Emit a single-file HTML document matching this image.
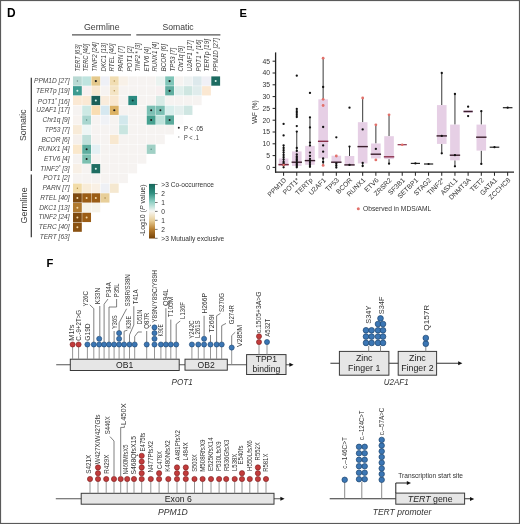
<!DOCTYPE html>
<html><head><meta charset="utf-8"><title>Figure</title>
<style>
html,body{margin:0;padding:0;background:#fff;}
body{width:520px;height:524px;overflow:hidden;}
svg{display:block;filter:blur(0.3px);font-family:"Liberation Sans", sans-serif;}
</style></head>
<body>
<svg width="520" height="524" viewBox="0 0 520 524">
<rect x="0.5" y="0.5" width="519" height="523" fill="#fff" stroke="#5a5a5a" stroke-width="1.2"/>
<text x="7.00" y="16.62" font-size="12.0" fill="#000" font-weight="bold" textLength="8.60" lengthAdjust="spacingAndGlyphs">D</text>
<text x="239.60" y="16.63" font-size="11.2" fill="#000" font-weight="bold">E</text>
<text x="46.40" y="267.28" font-size="11.2" fill="#000" font-weight="bold">F</text>
<text x="101.80" y="30.01" font-size="8.8" fill="#3a3a3a" text-anchor="middle">Germline</text>
<text x="178.10" y="30.23" font-size="8.6" fill="#3a3a3a" text-anchor="middle">Somatic</text>
<line x1="72.00" y1="34.90" x2="131.00" y2="34.90" stroke="#555" stroke-width="1.3"/>
<line x1="136.30" y1="34.80" x2="220.40" y2="34.80" stroke="#555" stroke-width="1.3"/>
<text transform="translate(79.68,71.60) rotate(-90)" font-size="6.8" fill="#3a3a3a" font-style="italic" textLength="27.00" lengthAdjust="spacingAndGlyphs">TERT [63]</text>
<text transform="translate(88.32,71.60) rotate(-90)" font-size="6.8" fill="#3a3a3a" font-style="italic" textLength="27.80" lengthAdjust="spacingAndGlyphs">TERC [40]</text>
<text transform="translate(96.96,71.60) rotate(-90)" font-size="6.8" fill="#3a3a3a" font-style="italic" textLength="29.30" lengthAdjust="spacingAndGlyphs">TINF2 [24]</text>
<text transform="translate(105.60,71.60) rotate(-90)" font-size="6.8" fill="#3a3a3a" font-style="italic" textLength="28.60" lengthAdjust="spacingAndGlyphs">DKC1 [13]</text>
<text transform="translate(114.24,71.60) rotate(-90)" font-size="6.8" fill="#3a3a3a" font-style="italic" textLength="28.10" lengthAdjust="spacingAndGlyphs">RTEL [40]</text>
<text transform="translate(122.88,71.60) rotate(-90)" font-size="6.8" fill="#3a3a3a" font-style="italic" textLength="25.70" lengthAdjust="spacingAndGlyphs">PARN [7]</text>
<text transform="translate(131.52,71.60) rotate(-90)" font-size="6.8" fill="#3a3a3a" font-style="italic" textLength="25.30" lengthAdjust="spacingAndGlyphs">POT1 [2]</text>
<text transform="translate(140.16,71.60) rotate(-90)" font-size="6.8" fill="#3a3a3a" font-style="italic" textLength="28.60" lengthAdjust="spacingAndGlyphs">TINF2 * [3]</text>
<text transform="translate(148.80,71.60) rotate(-90)" font-size="6.8" fill="#3a3a3a" font-style="italic" textLength="24.60" lengthAdjust="spacingAndGlyphs">ETV6 [4]</text>
<text transform="translate(157.44,71.60) rotate(-90)" font-size="6.8" fill="#3a3a3a" font-style="italic" textLength="29.60" lengthAdjust="spacingAndGlyphs">RUNX1 [4]</text>
<text transform="translate(166.08,71.60) rotate(-90)" font-size="6.8" fill="#3a3a3a" font-style="italic" textLength="27.60" lengthAdjust="spacingAndGlyphs">BCOR [6]</text>
<text transform="translate(174.72,71.60) rotate(-90)" font-size="6.8" fill="#3a3a3a" font-style="italic" textLength="23.90" lengthAdjust="spacingAndGlyphs">TP53 [7]</text>
<text transform="translate(183.36,71.60) rotate(-90)" font-size="6.8" fill="#3a3a3a" font-style="italic" textLength="25.60" lengthAdjust="spacingAndGlyphs">Chr1q [9]</text>
<text transform="translate(192.00,71.60) rotate(-90)" font-size="6.8" fill="#3a3a3a" font-style="italic" textLength="31.40" lengthAdjust="spacingAndGlyphs">U2AF1 [17]</text>
<text transform="translate(200.64,71.60) rotate(-90)" font-size="6.8" fill="#3a3a3a" font-style="italic" textLength="31.90" lengthAdjust="spacingAndGlyphs">POT1 * [16]</text>
<text transform="translate(209.28,71.60) rotate(-90)" font-size="6.8" fill="#3a3a3a" font-style="italic" textLength="32.60" lengthAdjust="spacingAndGlyphs">TERTp [19]</text>
<text transform="translate(217.92,71.60) rotate(-90)" font-size="6.8" fill="#3a3a3a" font-style="italic" textLength="33.60" lengthAdjust="spacingAndGlyphs">PPM1D [27]</text>
<text x="69.6" y="83.06" font-size="6.6" fill="#484848" font-style="italic" text-anchor="end">PPM1D [27]</text>
<text x="69.6" y="92.80" font-size="6.6" fill="#484848" font-style="italic" text-anchor="end">TERTp [19]</text>
<text x="69.6" y="103.94" font-size="6.6" fill="#484848" font-style="italic" text-anchor="end">POT1<tspan font-size="4.5" dy="-2.2">*</tspan><tspan dy="2.2"> </tspan>[16]</text>
<text x="69.6" y="112.28" font-size="6.6" fill="#484848" font-style="italic" text-anchor="end">U2AF1 [17]</text>
<text x="69.6" y="122.02" font-size="6.6" fill="#484848" font-style="italic" text-anchor="end">Chr1q [9]</text>
<text x="69.6" y="131.76" font-size="6.6" fill="#484848" font-style="italic" text-anchor="end">TP53 [7]</text>
<text x="69.6" y="141.50" font-size="6.6" fill="#484848" font-style="italic" text-anchor="end">BCOR [6]</text>
<text x="69.6" y="151.24" font-size="6.6" fill="#484848" font-style="italic" text-anchor="end">RUNX1 [4]</text>
<text x="69.6" y="160.98" font-size="6.6" fill="#484848" font-style="italic" text-anchor="end">ETV6 [4]</text>
<text x="69.6" y="170.72" font-size="6.6" fill="#484848" font-style="italic" text-anchor="end">TINF2<tspan font-size="4.5" dy="-2.2">*</tspan><tspan dy="2.2"> </tspan>[3]</text>
<text x="69.6" y="180.46" font-size="6.6" fill="#484848" font-style="italic" text-anchor="end">POT1 [2]</text>
<text x="69.6" y="190.20" font-size="6.6" fill="#484848" font-style="italic" text-anchor="end">PARN [7]</text>
<text x="69.6" y="199.94" font-size="6.6" fill="#484848" font-style="italic" text-anchor="end">RTEL [40]</text>
<text x="69.6" y="209.68" font-size="6.6" fill="#484848" font-style="italic" text-anchor="end">DKC1 [13]</text>
<text x="69.6" y="219.42" font-size="6.6" fill="#484848" font-style="italic" text-anchor="end">TINF2 [24]</text>
<text x="69.6" y="229.16" font-size="6.6" fill="#484848" font-style="italic" text-anchor="end">TERC [40]</text>
<text x="69.6" y="238.90" font-size="6.6" fill="#484848" font-style="italic" text-anchor="end">TERT [63]</text>
<text transform="translate(26.43,141.00) rotate(-90)" font-size="8.6" fill="#3a3a3a" textLength="31.50" lengthAdjust="spacingAndGlyphs">Somatic</text>
<text transform="translate(26.53,223.40) rotate(-90)" font-size="8.6" fill="#3a3a3a" textLength="36.00" lengthAdjust="spacingAndGlyphs">Germline</text>
<line x1="31.30" y1="77.70" x2="31.30" y2="171.00" stroke="#333" stroke-width="1.2"/>
<line x1="31.30" y1="174.60" x2="31.30" y2="237.30" stroke="#333" stroke-width="1.2"/>
<rect x="73.00" y="76.40" width="8.80" height="9.30" fill="#b9dad4"/>
<rect x="82.22" y="76.40" width="8.80" height="9.30" fill="#bfe4df"/>
<rect x="91.44" y="76.40" width="8.80" height="9.30" fill="#e4c98c"/>
<rect x="100.66" y="76.40" width="8.80" height="9.30" fill="#eef0f6"/>
<rect x="109.88" y="76.40" width="8.80" height="9.30" fill="#f1ddb2"/>
<rect x="119.10" y="76.40" width="8.80" height="9.30" fill="#f8f1e8"/>
<rect x="128.32" y="76.40" width="8.80" height="9.30" fill="#f6f3f1"/>
<rect x="137.54" y="76.40" width="8.80" height="9.30" fill="#f6f3f1"/>
<rect x="146.76" y="76.40" width="8.80" height="9.30" fill="#f6f3f1"/>
<rect x="155.98" y="76.40" width="8.80" height="9.30" fill="#eaf3f0"/>
<rect x="165.20" y="76.40" width="8.80" height="9.30" fill="#7fc5b8"/>
<rect x="174.42" y="76.40" width="8.80" height="9.30" fill="#f6f3f1"/>
<rect x="183.64" y="76.40" width="8.80" height="9.30" fill="#eef2f2"/>
<rect x="192.86" y="76.40" width="8.80" height="9.30" fill="#dde9ec"/>
<rect x="202.08" y="76.40" width="8.80" height="9.30" fill="#f0f0f6"/>
<rect x="211.30" y="76.40" width="8.80" height="9.30" fill="#1d6b61"/>
<rect x="73.00" y="86.14" width="8.80" height="9.30" fill="#3d9b90"/>
<rect x="82.22" y="86.14" width="8.80" height="9.30" fill="#f8f0f0"/>
<rect x="91.44" y="86.14" width="8.80" height="9.30" fill="#f9e9d2"/>
<rect x="100.66" y="86.14" width="8.80" height="9.30" fill="#f6f3f1"/>
<rect x="109.88" y="86.14" width="8.80" height="9.30" fill="#f4e4c4"/>
<rect x="119.10" y="86.14" width="8.80" height="9.30" fill="#f6f3f1"/>
<rect x="128.32" y="86.14" width="8.80" height="9.30" fill="#f6f3f1"/>
<rect x="137.54" y="86.14" width="8.80" height="9.30" fill="#f6f3f1"/>
<rect x="146.76" y="86.14" width="8.80" height="9.30" fill="#f6f3f1"/>
<rect x="155.98" y="86.14" width="8.80" height="9.30" fill="#f7f0f0"/>
<rect x="165.20" y="86.14" width="8.80" height="9.30" fill="#5faea0"/>
<rect x="174.42" y="86.14" width="8.80" height="9.30" fill="#e0efec"/>
<rect x="183.64" y="86.14" width="8.80" height="9.30" fill="#cfe6e1"/>
<rect x="192.86" y="86.14" width="8.80" height="9.30" fill="#e0ecec"/>
<rect x="202.08" y="86.14" width="8.80" height="9.30" fill="#fbe8d2"/>
<rect x="73.00" y="95.88" width="8.80" height="9.30" fill="#fbe9d4"/>
<rect x="82.22" y="95.88" width="8.80" height="9.30" fill="#fbe9d4"/>
<rect x="91.44" y="95.88" width="8.80" height="9.30" fill="#1b5f58"/>
<rect x="100.66" y="95.88" width="8.80" height="9.30" fill="#f9ecdc"/>
<rect x="109.88" y="95.88" width="8.80" height="9.30" fill="#f9e8d0"/>
<rect x="119.10" y="95.88" width="8.80" height="9.30" fill="#f6f3f1"/>
<rect x="128.32" y="95.88" width="8.80" height="9.30" fill="#2b8a80"/>
<rect x="137.54" y="95.88" width="8.80" height="9.30" fill="#f6f3f1"/>
<rect x="146.76" y="95.88" width="8.80" height="9.30" fill="#f6f3f1"/>
<rect x="155.98" y="95.88" width="8.80" height="9.30" fill="#d7ebe6"/>
<rect x="165.20" y="95.88" width="8.80" height="9.30" fill="#f6f3f1"/>
<rect x="174.42" y="95.88" width="8.80" height="9.30" fill="#f6f3f1"/>
<rect x="183.64" y="95.88" width="8.80" height="9.30" fill="#f6f3f1"/>
<rect x="192.86" y="95.88" width="8.80" height="9.30" fill="#f6f3f1"/>
<rect x="73.00" y="105.62" width="8.80" height="9.30" fill="#f6f3f1"/>
<rect x="82.22" y="105.62" width="8.80" height="9.30" fill="#cde9e4"/>
<rect x="91.44" y="105.62" width="8.80" height="9.30" fill="#f9ddb2"/>
<rect x="100.66" y="105.62" width="8.80" height="9.30" fill="#d6e8f0"/>
<rect x="109.88" y="105.62" width="8.80" height="9.30" fill="#dcb264"/>
<rect x="119.10" y="105.62" width="8.80" height="9.30" fill="#f6f3f1"/>
<rect x="128.32" y="105.62" width="8.80" height="9.30" fill="#f6f3f1"/>
<rect x="137.54" y="105.62" width="8.80" height="9.30" fill="#f6f3f1"/>
<rect x="146.76" y="105.62" width="8.80" height="9.30" fill="#7cc0b4"/>
<rect x="155.98" y="105.62" width="8.80" height="9.30" fill="#7cc0b4"/>
<rect x="165.20" y="105.62" width="8.80" height="9.30" fill="#d8eeec"/>
<rect x="174.42" y="105.62" width="8.80" height="9.30" fill="#e4efee"/>
<rect x="183.64" y="105.62" width="8.80" height="9.30" fill="#cfe6e2"/>
<rect x="73.00" y="115.36" width="8.80" height="9.30" fill="#f8f3ef"/>
<rect x="82.22" y="115.36" width="8.80" height="9.30" fill="#a9d6cf"/>
<rect x="91.44" y="115.36" width="8.80" height="9.30" fill="#f6f3f1"/>
<rect x="100.66" y="115.36" width="8.80" height="9.30" fill="#f0f2f6"/>
<rect x="109.88" y="115.36" width="8.80" height="9.30" fill="#f6f3f1"/>
<rect x="119.10" y="115.36" width="8.80" height="9.30" fill="#d2e8ec"/>
<rect x="128.32" y="115.36" width="8.80" height="9.30" fill="#f6f3f1"/>
<rect x="137.54" y="115.36" width="8.80" height="9.30" fill="#f6f3f1"/>
<rect x="146.76" y="115.36" width="8.80" height="9.30" fill="#46a190"/>
<rect x="155.98" y="115.36" width="8.80" height="9.30" fill="#bfe3dc"/>
<rect x="165.20" y="115.36" width="8.80" height="9.30" fill="#5aaa9c"/>
<rect x="174.42" y="115.36" width="8.80" height="9.30" fill="#fbfbfb"/>
<rect x="73.00" y="125.10" width="8.80" height="9.30" fill="#f8ebd8"/>
<rect x="82.22" y="125.10" width="8.80" height="9.30" fill="#eef6f5"/>
<rect x="91.44" y="125.10" width="8.80" height="9.30" fill="#f6f3f1"/>
<rect x="100.66" y="125.10" width="8.80" height="9.30" fill="#f6f3f1"/>
<rect x="109.88" y="125.10" width="8.80" height="9.30" fill="#f6f3f1"/>
<rect x="119.10" y="125.10" width="8.80" height="9.30" fill="#c9e5e0"/>
<rect x="128.32" y="125.10" width="8.80" height="9.30" fill="#f6f3f1"/>
<rect x="137.54" y="125.10" width="8.80" height="9.30" fill="#f6f3f1"/>
<rect x="146.76" y="125.10" width="8.80" height="9.30" fill="#f6f3f1"/>
<rect x="155.98" y="125.10" width="8.80" height="9.30" fill="#f6f3f1"/>
<rect x="165.20" y="125.10" width="8.80" height="9.30" fill="#f6f3f1"/>
<rect x="73.00" y="134.84" width="8.80" height="9.30" fill="#f5f0ec"/>
<rect x="82.22" y="134.84" width="8.80" height="9.30" fill="#c0e0da"/>
<rect x="91.44" y="134.84" width="8.80" height="9.30" fill="#f6f3f1"/>
<rect x="100.66" y="134.84" width="8.80" height="9.30" fill="#f6f3f1"/>
<rect x="109.88" y="134.84" width="8.80" height="9.30" fill="#f8e8d0"/>
<rect x="119.10" y="134.84" width="8.80" height="9.30" fill="#f6f3f1"/>
<rect x="128.32" y="134.84" width="8.80" height="9.30" fill="#f6f3f1"/>
<rect x="137.54" y="134.84" width="8.80" height="9.30" fill="#f6f3f1"/>
<rect x="146.76" y="134.84" width="8.80" height="9.30" fill="#f6f3f1"/>
<rect x="155.98" y="134.84" width="8.80" height="9.30" fill="#f6f3f1"/>
<rect x="73.00" y="144.58" width="8.80" height="9.30" fill="#fae8cc"/>
<rect x="82.22" y="144.58" width="8.80" height="9.30" fill="#5fae9f"/>
<rect x="91.44" y="144.58" width="8.80" height="9.30" fill="#e4f0f3"/>
<rect x="100.66" y="144.58" width="8.80" height="9.30" fill="#f6f3f1"/>
<rect x="109.88" y="144.58" width="8.80" height="9.30" fill="#f6f3f1"/>
<rect x="119.10" y="144.58" width="8.80" height="9.30" fill="#f6f3f1"/>
<rect x="128.32" y="144.58" width="8.80" height="9.30" fill="#f6f3f1"/>
<rect x="137.54" y="144.58" width="8.80" height="9.30" fill="#f6f3f1"/>
<rect x="146.76" y="144.58" width="8.80" height="9.30" fill="#a0d0c5"/>
<rect x="73.00" y="154.32" width="8.80" height="9.30" fill="#f5f2f0"/>
<rect x="82.22" y="154.32" width="8.80" height="9.30" fill="#7cc0b0"/>
<rect x="91.44" y="154.32" width="8.80" height="9.30" fill="#f6f3f1"/>
<rect x="100.66" y="154.32" width="8.80" height="9.30" fill="#f6f3f1"/>
<rect x="109.88" y="154.32" width="8.80" height="9.30" fill="#f6f3f1"/>
<rect x="119.10" y="154.32" width="8.80" height="9.30" fill="#f6f3f1"/>
<rect x="128.32" y="154.32" width="8.80" height="9.30" fill="#f6f3f1"/>
<rect x="137.54" y="154.32" width="8.80" height="9.30" fill="#f6f3f1"/>
<rect x="73.00" y="164.06" width="8.80" height="9.30" fill="#f8f0e6"/>
<rect x="82.22" y="164.06" width="8.80" height="9.30" fill="#f6f3f1"/>
<rect x="91.44" y="164.06" width="8.80" height="9.30" fill="#1f6e62"/>
<rect x="100.66" y="164.06" width="8.80" height="9.30" fill="#f6f3f1"/>
<rect x="109.88" y="164.06" width="8.80" height="9.30" fill="#f6f3f1"/>
<rect x="119.10" y="164.06" width="8.80" height="9.30" fill="#f6f3f1"/>
<rect x="128.32" y="164.06" width="8.80" height="9.30" fill="#f6f3f1"/>
<rect x="73.00" y="173.80" width="8.80" height="9.30" fill="#f6f3f1"/>
<rect x="82.22" y="173.80" width="8.80" height="9.30" fill="#f6f3f1"/>
<rect x="91.44" y="173.80" width="8.80" height="9.30" fill="#f6f3f1"/>
<rect x="100.66" y="173.80" width="8.80" height="9.30" fill="#f6f3f1"/>
<rect x="109.88" y="173.80" width="8.80" height="9.30" fill="#f6f3f1"/>
<rect x="119.10" y="173.80" width="8.80" height="9.30" fill="#f6f3f1"/>
<rect x="73.00" y="183.54" width="8.80" height="9.30" fill="#f2dca8"/>
<rect x="82.22" y="183.54" width="8.80" height="9.30" fill="#f8ecd8"/>
<rect x="91.44" y="183.54" width="8.80" height="9.30" fill="#f9f0e4"/>
<rect x="100.66" y="183.54" width="8.80" height="9.30" fill="#eef0f5"/>
<rect x="109.88" y="183.54" width="8.80" height="9.30" fill="#f5e8d0"/>
<rect x="73.00" y="193.28" width="8.80" height="9.30" fill="#7e4a10"/>
<rect x="82.22" y="193.28" width="8.80" height="9.30" fill="#9b5d16"/>
<rect x="91.44" y="193.28" width="8.80" height="9.30" fill="#9b5d16"/>
<rect x="100.66" y="193.28" width="8.80" height="9.30" fill="#e8cf9a"/>
<rect x="73.00" y="203.02" width="8.80" height="9.30" fill="#b07a30"/>
<rect x="82.22" y="203.02" width="8.80" height="9.30" fill="#f6f3ea"/>
<rect x="91.44" y="203.02" width="8.80" height="9.30" fill="#f6f3ea"/>
<rect x="73.00" y="212.76" width="8.80" height="9.30" fill="#7e4a10"/>
<rect x="82.22" y="212.76" width="8.80" height="9.30" fill="#9b5d16"/>
<rect x="73.00" y="222.50" width="8.80" height="9.30" fill="#8a5212"/>
<circle cx="77.40" cy="81.05" r="0.70" fill="#6a8a86"/>
<circle cx="95.84" cy="81.05" r="1.10" fill="#1a1a1a"/>
<circle cx="114.28" cy="81.05" r="0.70" fill="#b09050"/>
<circle cx="169.60" cy="81.05" r="1.10" fill="#1a1a1a"/>
<circle cx="215.70" cy="81.05" r="1.00" fill="#d8f0ea"/>
<circle cx="77.40" cy="90.79" r="1.00" fill="#d8f4ef"/>
<circle cx="114.28" cy="90.79" r="0.70" fill="#b09050"/>
<circle cx="169.60" cy="90.79" r="1.10" fill="#1a1a1a"/>
<circle cx="95.84" cy="100.53" r="1.00" fill="#d8f4ef"/>
<circle cx="132.72" cy="100.53" r="1.00" fill="#0d3a35"/>
<circle cx="114.28" cy="110.27" r="1.10" fill="#1a1a1a"/>
<circle cx="151.16" cy="110.27" r="1.00" fill="#1a1a1a"/>
<circle cx="160.38" cy="110.27" r="1.00" fill="#1a1a1a"/>
<circle cx="86.62" cy="120.01" r="0.70" fill="#5a8a84"/>
<circle cx="151.16" cy="120.01" r="1.00" fill="#1a1a1a"/>
<circle cx="169.60" cy="120.01" r="1.00" fill="#1a1a1a"/>
<circle cx="86.62" cy="149.23" r="1.00" fill="#1a1a1a"/>
<circle cx="151.16" cy="149.23" r="0.70" fill="#5a8a84"/>
<circle cx="86.62" cy="158.97" r="1.00" fill="#1a1a1a"/>
<circle cx="95.84" cy="168.71" r="1.00" fill="#d8f4ef"/>
<circle cx="77.40" cy="188.19" r="0.70" fill="#b09050"/>
<circle cx="77.40" cy="197.93" r="1.00" fill="#f3d9a8"/>
<circle cx="86.62" cy="197.93" r="1.00" fill="#f3d9a8"/>
<circle cx="95.84" cy="197.93" r="1.00" fill="#f3d9a8"/>
<circle cx="105.06" cy="197.93" r="0.70" fill="#a08040"/>
<circle cx="77.40" cy="207.67" r="1.00" fill="#f3d9a8"/>
<circle cx="77.40" cy="217.41" r="1.00" fill="#f3d9a8"/>
<circle cx="86.62" cy="217.41" r="1.00" fill="#f3d9a8"/>
<circle cx="77.40" cy="227.15" r="1.00" fill="#f3d9a8"/>
<circle cx="178.80" cy="127.80" r="1.00" fill="#222"/>
<text x="184.00" y="131.11" font-size="6.6" fill="#333" textLength="19.20" lengthAdjust="spacingAndGlyphs">P &lt; .05</text>
<circle cx="178.80" cy="137.00" r="0.70" fill="#999"/>
<text x="184.00" y="140.31" font-size="6.6" fill="#333" textLength="14.80" lengthAdjust="spacingAndGlyphs">P &lt; .1</text>
<defs><linearGradient id="cb" x1="0" y1="0" x2="0" y2="1"><stop offset="0" stop-color="#17675b"/><stop offset="0.17" stop-color="#2f8f80"/><stop offset="0.33" stop-color="#8fd0c4"/><stop offset="0.5" stop-color="#f7f7f4"/><stop offset="0.67" stop-color="#e8cf9a"/><stop offset="0.83" stop-color="#b87f30"/><stop offset="1" stop-color="#754208"/></linearGradient></defs>
<rect x="149.00" y="183.90" width="6.00" height="54.60" fill="url(#cb)"/>
<line x1="155.00" y1="184.50" x2="157.60" y2="184.50" stroke="#555" stroke-width="0.8"/>
<text x="161.30" y="186.91" font-size="6.6" fill="#333">&gt;3 Co-occurrence</text>
<line x1="155.00" y1="193.60" x2="157.60" y2="193.60" stroke="#555" stroke-width="0.8"/>
<text x="161.30" y="196.01" font-size="6.6" fill="#333">2</text>
<line x1="155.00" y1="202.50" x2="157.60" y2="202.50" stroke="#555" stroke-width="0.8"/>
<text x="161.30" y="204.91" font-size="6.6" fill="#333">1</text>
<line x1="155.00" y1="211.40" x2="157.60" y2="211.40" stroke="#555" stroke-width="0.8"/>
<text x="161.30" y="213.81" font-size="6.6" fill="#333">0</text>
<line x1="155.00" y1="220.30" x2="157.60" y2="220.30" stroke="#555" stroke-width="0.8"/>
<text x="161.30" y="222.71" font-size="6.6" fill="#333">1</text>
<line x1="155.00" y1="229.40" x2="157.60" y2="229.40" stroke="#555" stroke-width="0.8"/>
<text x="161.30" y="231.81" font-size="6.6" fill="#333">2</text>
<line x1="155.00" y1="238.30" x2="157.60" y2="238.30" stroke="#555" stroke-width="0.8"/>
<text x="161.30" y="240.71" font-size="6.6" fill="#333">&gt;3 Mutually exclusive</text>
<text transform="translate(145.3,236.0) rotate(-90)" font-size="6.9" fill="#333" textLength="51.5" lengthAdjust="spacingAndGlyphs">-Log10 (<tspan font-style="italic">P</tspan> value)</text>
<line x1="275.60" y1="52.40" x2="275.60" y2="172.70" stroke="#222" stroke-width="1.3"/>
<line x1="275.00" y1="172.10" x2="514.00" y2="172.10" stroke="#222" stroke-width="1.3"/>
<line x1="272.60" y1="167.40" x2="275.60" y2="167.40" stroke="#222" stroke-width="1.0"/>
<text x="270.00" y="169.88" font-size="6.8" fill="#333" text-anchor="end">0</text>
<line x1="272.60" y1="155.60" x2="275.60" y2="155.60" stroke="#222" stroke-width="1.0"/>
<text x="270.00" y="158.08" font-size="6.8" fill="#333" text-anchor="end">5</text>
<line x1="272.60" y1="143.80" x2="275.60" y2="143.80" stroke="#222" stroke-width="1.0"/>
<text x="270.00" y="146.28" font-size="6.8" fill="#333" text-anchor="end">10</text>
<line x1="272.60" y1="132.00" x2="275.60" y2="132.00" stroke="#222" stroke-width="1.0"/>
<text x="270.00" y="134.48" font-size="6.8" fill="#333" text-anchor="end">15</text>
<line x1="272.60" y1="120.20" x2="275.60" y2="120.20" stroke="#222" stroke-width="1.0"/>
<text x="270.00" y="122.68" font-size="6.8" fill="#333" text-anchor="end">20</text>
<line x1="272.60" y1="108.40" x2="275.60" y2="108.40" stroke="#222" stroke-width="1.0"/>
<text x="270.00" y="110.88" font-size="6.8" fill="#333" text-anchor="end">25</text>
<line x1="272.60" y1="96.60" x2="275.60" y2="96.60" stroke="#222" stroke-width="1.0"/>
<text x="270.00" y="99.08" font-size="6.8" fill="#333" text-anchor="end">30</text>
<line x1="272.60" y1="84.80" x2="275.60" y2="84.80" stroke="#222" stroke-width="1.0"/>
<text x="270.00" y="87.28" font-size="6.8" fill="#333" text-anchor="end">35</text>
<line x1="272.60" y1="73.00" x2="275.60" y2="73.00" stroke="#222" stroke-width="1.0"/>
<text x="270.00" y="75.48" font-size="6.8" fill="#333" text-anchor="end">40</text>
<line x1="272.60" y1="61.20" x2="275.60" y2="61.20" stroke="#222" stroke-width="1.0"/>
<text x="270.00" y="63.68" font-size="6.8" fill="#333" text-anchor="end">45</text>
<text transform="translate(256.6,124.0) rotate(-90)" font-size="6.6" fill="#333" textLength="23.5" lengthAdjust="spacingAndGlyphs">VAF (%)</text>
<line x1="283.60" y1="172.10" x2="283.60" y2="175.80" stroke="#222" stroke-width="1.0"/>
<text transform="translate(286.80,180.60) rotate(-45)" font-size="6.8" fill="#333" text-anchor="end">PPM1D</text>
<line x1="296.78" y1="172.10" x2="296.78" y2="175.80" stroke="#222" stroke-width="1.0"/>
<text transform="translate(299.98,180.60) rotate(-45)" font-size="6.8" fill="#333" text-anchor="end">POT1*</text>
<line x1="309.96" y1="172.10" x2="309.96" y2="175.80" stroke="#222" stroke-width="1.0"/>
<text transform="translate(313.16,180.60) rotate(-45)" font-size="6.8" fill="#333" text-anchor="end">TERTp</text>
<line x1="323.14" y1="172.10" x2="323.14" y2="175.80" stroke="#222" stroke-width="1.0"/>
<text transform="translate(326.34,180.60) rotate(-45)" font-size="6.8" fill="#333" text-anchor="end">U2AF1</text>
<line x1="336.32" y1="172.10" x2="336.32" y2="175.80" stroke="#222" stroke-width="1.0"/>
<text transform="translate(339.52,180.60) rotate(-45)" font-size="6.8" fill="#333" text-anchor="end">TP53</text>
<line x1="349.50" y1="172.10" x2="349.50" y2="175.80" stroke="#222" stroke-width="1.0"/>
<text transform="translate(352.70,180.60) rotate(-45)" font-size="6.8" fill="#333" text-anchor="end">BCOR</text>
<line x1="362.68" y1="172.10" x2="362.68" y2="175.80" stroke="#222" stroke-width="1.0"/>
<text transform="translate(365.88,180.60) rotate(-45)" font-size="6.8" fill="#333" text-anchor="end">RUNX1</text>
<line x1="375.86" y1="172.10" x2="375.86" y2="175.80" stroke="#222" stroke-width="1.0"/>
<text transform="translate(379.06,180.60) rotate(-45)" font-size="6.8" fill="#333" text-anchor="end">ETV6</text>
<line x1="389.04" y1="172.10" x2="389.04" y2="175.80" stroke="#222" stroke-width="1.0"/>
<text transform="translate(392.24,180.60) rotate(-45)" font-size="6.8" fill="#333" text-anchor="end">ZRSR2</text>
<line x1="402.22" y1="172.10" x2="402.22" y2="175.80" stroke="#222" stroke-width="1.0"/>
<text transform="translate(405.42,180.60) rotate(-45)" font-size="6.8" fill="#333" text-anchor="end">SF3B1</text>
<line x1="415.40" y1="172.10" x2="415.40" y2="175.80" stroke="#222" stroke-width="1.0"/>
<text transform="translate(418.60,180.60) rotate(-45)" font-size="6.8" fill="#333" text-anchor="end">SETBP1</text>
<line x1="428.58" y1="172.10" x2="428.58" y2="175.80" stroke="#222" stroke-width="1.0"/>
<text transform="translate(431.78,180.60) rotate(-45)" font-size="6.8" fill="#333" text-anchor="end">STAG2</text>
<line x1="441.76" y1="172.10" x2="441.76" y2="175.80" stroke="#222" stroke-width="1.0"/>
<text transform="translate(444.96,180.60) rotate(-45)" font-size="6.8" fill="#333" text-anchor="end">TINF2*</text>
<line x1="454.94" y1="172.10" x2="454.94" y2="175.80" stroke="#222" stroke-width="1.0"/>
<text transform="translate(458.14,180.60) rotate(-45)" font-size="6.8" fill="#333" text-anchor="end">ASXL1</text>
<line x1="468.12" y1="172.10" x2="468.12" y2="175.80" stroke="#222" stroke-width="1.0"/>
<text transform="translate(471.32,180.60) rotate(-45)" font-size="6.8" fill="#333" text-anchor="end">DNMT3A</text>
<line x1="481.30" y1="172.10" x2="481.30" y2="175.80" stroke="#222" stroke-width="1.0"/>
<text transform="translate(484.50,180.60) rotate(-45)" font-size="6.8" fill="#333" text-anchor="end">TET2</text>
<line x1="494.48" y1="172.10" x2="494.48" y2="175.80" stroke="#222" stroke-width="1.0"/>
<text transform="translate(497.68,180.60) rotate(-45)" font-size="6.8" fill="#333" text-anchor="end">GATA1</text>
<line x1="507.66" y1="172.10" x2="507.66" y2="175.80" stroke="#222" stroke-width="1.0"/>
<text transform="translate(510.86,180.60) rotate(-45)" font-size="6.8" fill="#333" text-anchor="end">ZCCHC8</text>
<rect x="278.80" y="158.50" width="9.60" height="7.50" fill="#e6cfe5"/>
<line x1="278.40" y1="164.60" x2="288.80" y2="164.60" stroke="#7a2b3c" stroke-width="1.4"/>
<line x1="283.60" y1="145.40" x2="283.60" y2="167.50" stroke="#222" stroke-width="0.9"/>
<circle cx="283.60" cy="123.90" r="1.15" fill="#111"/>
<circle cx="283.60" cy="135.40" r="1.15" fill="#111"/>
<circle cx="283.60" cy="145.40" r="1.15" fill="#111"/>
<circle cx="283.60" cy="148.00" r="1.15" fill="#111"/>
<circle cx="283.60" cy="150.20" r="1.15" fill="#111"/>
<circle cx="283.60" cy="152.50" r="1.15" fill="#111"/>
<circle cx="283.60" cy="155.00" r="1.15" fill="#111"/>
<circle cx="283.60" cy="157.20" r="1.15" fill="#111"/>
<circle cx="283.60" cy="159.50" r="1.15" fill="#111"/>
<circle cx="283.60" cy="162.00" r="1.15" fill="#111"/>
<circle cx="283.60" cy="163.50" r="1.15" fill="#111"/>
<circle cx="283.60" cy="165.20" r="1.15" fill="#111"/>
<circle cx="283.60" cy="167.30" r="1.15" fill="#111"/>
<circle cx="283.60" cy="165.00" r="1.30" fill="#e2716b"/>
<line x1="296.78" y1="131.60" x2="296.78" y2="151.40" stroke="#222" stroke-width="0.9"/>
<line x1="296.78" y1="166.00" x2="296.78" y2="167.30" stroke="#222" stroke-width="0.9"/>
<rect x="291.98" y="151.40" width="9.60" height="14.60" fill="#e6cfe5"/>
<line x1="291.58" y1="162.20" x2="301.98" y2="162.20" stroke="#3a1f2c" stroke-width="1.4"/>
<circle cx="296.78" cy="75.70" r="1.15" fill="#111"/>
<circle cx="296.78" cy="109.00" r="1.15" fill="#111"/>
<circle cx="296.78" cy="111.20" r="1.15" fill="#111"/>
<circle cx="296.78" cy="113.00" r="1.15" fill="#111"/>
<circle cx="296.78" cy="115.00" r="1.15" fill="#111"/>
<circle cx="296.78" cy="117.00" r="1.15" fill="#111"/>
<circle cx="296.78" cy="126.10" r="1.15" fill="#111"/>
<circle cx="296.78" cy="131.60" r="1.15" fill="#111"/>
<circle cx="296.78" cy="148.00" r="1.15" fill="#111"/>
<circle cx="296.78" cy="151.00" r="1.15" fill="#111"/>
<circle cx="296.78" cy="154.50" r="1.15" fill="#111"/>
<circle cx="296.78" cy="156.50" r="1.15" fill="#111"/>
<circle cx="296.78" cy="158.00" r="1.15" fill="#111"/>
<circle cx="296.78" cy="159.50" r="1.15" fill="#111"/>
<circle cx="296.78" cy="161.00" r="1.15" fill="#111"/>
<circle cx="296.78" cy="163.00" r="1.15" fill="#111"/>
<circle cx="296.78" cy="164.50" r="1.15" fill="#111"/>
<circle cx="296.78" cy="166.00" r="1.15" fill="#111"/>
<circle cx="296.78" cy="167.30" r="1.15" fill="#111"/>
<line x1="309.96" y1="117.30" x2="309.96" y2="145.90" stroke="#222" stroke-width="0.9"/>
<line x1="309.96" y1="164.80" x2="309.96" y2="167.30" stroke="#222" stroke-width="0.9"/>
<rect x="305.16" y="145.90" width="9.60" height="18.90" fill="#e6cfe5"/>
<line x1="304.76" y1="160.60" x2="315.16" y2="160.60" stroke="#3a1f2c" stroke-width="1.4"/>
<circle cx="309.96" cy="92.90" r="1.15" fill="#111"/>
<circle cx="309.96" cy="117.30" r="1.15" fill="#111"/>
<circle cx="309.96" cy="127.40" r="1.15" fill="#111"/>
<circle cx="309.96" cy="142.60" r="1.15" fill="#111"/>
<circle cx="309.96" cy="145.60" r="1.15" fill="#111"/>
<circle cx="309.96" cy="152.60" r="1.15" fill="#111"/>
<circle cx="309.96" cy="156.00" r="1.15" fill="#111"/>
<circle cx="309.96" cy="159.00" r="1.15" fill="#111"/>
<circle cx="309.96" cy="161.00" r="1.15" fill="#111"/>
<circle cx="309.96" cy="163.00" r="1.15" fill="#111"/>
<circle cx="309.96" cy="165.00" r="1.15" fill="#111"/>
<circle cx="309.96" cy="166.80" r="1.15" fill="#111"/>
<line x1="323.14" y1="58.20" x2="323.14" y2="99.30" stroke="#222" stroke-width="0.9"/>
<line x1="323.14" y1="158.30" x2="323.14" y2="165.40" stroke="#222" stroke-width="0.9"/>
<rect x="318.34" y="99.30" width="9.60" height="59.00" fill="#e6cfe5"/>
<line x1="317.94" y1="141.30" x2="328.34" y2="141.30" stroke="#8a2f4a" stroke-width="1.4"/>
<circle cx="323.14" cy="87.00" r="1.15" fill="#111"/>
<circle cx="323.14" cy="127.00" r="1.15" fill="#111"/>
<circle cx="323.14" cy="145.40" r="1.15" fill="#111"/>
<circle cx="323.14" cy="151.70" r="1.15" fill="#111"/>
<circle cx="323.14" cy="158.50" r="1.15" fill="#111"/>
<circle cx="323.14" cy="162.00" r="1.15" fill="#111"/>
<circle cx="323.14" cy="58.20" r="1.40" fill="#e2716b"/>
<circle cx="323.14" cy="99.30" r="1.40" fill="#e2716b"/>
<circle cx="323.14" cy="105.50" r="1.40" fill="#e2716b"/>
<circle cx="323.14" cy="165.40" r="1.40" fill="#e2716b"/>
<line x1="336.32" y1="163.10" x2="336.32" y2="167.70" stroke="#222" stroke-width="0.9"/>
<rect x="331.52" y="155.70" width="9.60" height="7.40" fill="#e6cfe5"/>
<line x1="331.12" y1="162.20" x2="341.52" y2="162.20" stroke="#3a1f2c" stroke-width="1.4"/>
<circle cx="336.32" cy="137.30" r="1.15" fill="#111"/>
<circle cx="336.32" cy="163.50" r="1.15" fill="#111"/>
<circle cx="336.32" cy="165.50" r="1.15" fill="#111"/>
<circle cx="336.32" cy="167.50" r="1.15" fill="#111"/>
<circle cx="336.32" cy="156.00" r="1.40" fill="#e2716b"/>
<line x1="349.50" y1="146.60" x2="349.50" y2="156.00" stroke="#222" stroke-width="0.9"/>
<rect x="344.70" y="156.00" width="9.60" height="9.50" fill="#e6cfe5"/>
<line x1="344.30" y1="164.90" x2="354.70" y2="164.90" stroke="#3a1f2c" stroke-width="1.4"/>
<circle cx="349.50" cy="107.70" r="1.15" fill="#111"/>
<circle cx="349.50" cy="146.60" r="1.15" fill="#111"/>
<circle cx="349.50" cy="164.90" r="1.15" fill="#111"/>
<line x1="362.68" y1="98.00" x2="362.68" y2="122.20" stroke="#222" stroke-width="0.9"/>
<line x1="362.68" y1="163.40" x2="362.68" y2="166.00" stroke="#222" stroke-width="0.9"/>
<rect x="357.88" y="122.20" width="9.60" height="41.20" fill="#e6cfe5"/>
<line x1="357.48" y1="146.60" x2="367.88" y2="146.60" stroke="#3a1f2c" stroke-width="1.4"/>
<circle cx="362.68" cy="129.40" r="1.15" fill="#111"/>
<circle cx="362.68" cy="163.00" r="1.15" fill="#111"/>
<circle cx="362.68" cy="166.00" r="1.15" fill="#111"/>
<circle cx="362.68" cy="98.00" r="1.40" fill="#e2716b"/>
<line x1="375.86" y1="124.80" x2="375.86" y2="143.50" stroke="#222" stroke-width="0.9"/>
<rect x="371.06" y="143.50" width="9.60" height="14.90" fill="#e6cfe5"/>
<line x1="370.66" y1="154.20" x2="381.06" y2="154.20" stroke="#3a1f2c" stroke-width="1.4"/>
<circle cx="375.86" cy="148.90" r="1.15" fill="#111"/>
<circle cx="375.86" cy="124.80" r="1.40" fill="#e2716b"/>
<circle cx="375.86" cy="159.90" r="1.40" fill="#e2716b"/>
<line x1="389.04" y1="114.80" x2="389.04" y2="136.20" stroke="#222" stroke-width="0.9"/>
<line x1="389.04" y1="159.10" x2="389.04" y2="163.70" stroke="#222" stroke-width="0.9"/>
<rect x="384.24" y="136.20" width="9.60" height="22.90" fill="#e6cfe5"/>
<line x1="383.84" y1="156.80" x2="394.24" y2="156.80" stroke="#8a2f4a" stroke-width="1.4"/>
<circle cx="389.04" cy="163.70" r="1.15" fill="#111"/>
<circle cx="389.04" cy="114.80" r="1.40" fill="#e2716b"/>
<line x1="397.62" y1="144.70" x2="406.82" y2="144.70" stroke="#8a2f4a" stroke-width="1.2"/>
<circle cx="402.22" cy="144.70" r="1.30" fill="#e2716b"/>
<line x1="410.80" y1="163.40" x2="420.00" y2="163.40" stroke="#222" stroke-width="1.2"/>
<circle cx="415.40" cy="163.40" r="1.10" fill="#111"/>
<line x1="423.98" y1="164.00" x2="433.18" y2="164.00" stroke="#222" stroke-width="1.2"/>
<circle cx="428.58" cy="164.00" r="1.10" fill="#111"/>
<line x1="441.76" y1="73.00" x2="441.76" y2="105.10" stroke="#222" stroke-width="0.9"/>
<line x1="441.76" y1="143.90" x2="441.76" y2="153.30" stroke="#222" stroke-width="0.9"/>
<rect x="436.96" y="105.10" width="9.60" height="38.80" fill="#e6cfe5"/>
<line x1="436.56" y1="135.90" x2="446.96" y2="135.90" stroke="#3a1f2c" stroke-width="1.4"/>
<circle cx="441.76" cy="73.00" r="1.15" fill="#111"/>
<circle cx="441.76" cy="135.90" r="1.15" fill="#111"/>
<circle cx="441.76" cy="153.30" r="1.15" fill="#111"/>
<line x1="454.94" y1="93.70" x2="454.94" y2="124.60" stroke="#222" stroke-width="0.9"/>
<line x1="454.94" y1="160.30" x2="454.94" y2="166.30" stroke="#222" stroke-width="0.9"/>
<rect x="450.14" y="124.60" width="9.60" height="35.70" fill="#e6cfe5"/>
<line x1="449.74" y1="155.20" x2="460.14" y2="155.20" stroke="#3a1f2c" stroke-width="1.4"/>
<circle cx="454.94" cy="94.00" r="1.15" fill="#111"/>
<circle cx="454.94" cy="155.20" r="1.15" fill="#111"/>
<circle cx="454.94" cy="166.30" r="1.15" fill="#111"/>
<rect x="463.52" y="110.20" width="9.20" height="2.60" fill="#e6cfe5"/>
<line x1="463.52" y1="111.50" x2="472.72" y2="111.50" stroke="#3a1f2c" stroke-width="1.4"/>
<circle cx="468.12" cy="106.70" r="1.15" fill="#111"/>
<circle cx="468.12" cy="116.10" r="1.15" fill="#111"/>
<line x1="481.30" y1="111.10" x2="481.30" y2="124.60" stroke="#222" stroke-width="0.9"/>
<line x1="481.30" y1="150.60" x2="481.30" y2="163.90" stroke="#222" stroke-width="0.9"/>
<rect x="476.50" y="124.60" width="9.60" height="26.00" fill="#e6cfe5"/>
<line x1="476.10" y1="137.20" x2="486.50" y2="137.20" stroke="#3a1f2c" stroke-width="1.4"/>
<circle cx="481.30" cy="111.20" r="1.15" fill="#111"/>
<circle cx="481.30" cy="163.90" r="1.15" fill="#111"/>
<line x1="489.68" y1="147.20" x2="499.28" y2="147.20" stroke="#222" stroke-width="1.2"/>
<circle cx="494.48" cy="147.20" r="1.10" fill="#111"/>
<line x1="502.86" y1="107.70" x2="512.46" y2="107.70" stroke="#222" stroke-width="1.2"/>
<circle cx="507.66" cy="107.70" r="1.10" fill="#111"/>
<circle cx="358.30" cy="208.80" r="1.50" fill="#e2716b"/>
<text x="363.00" y="211.24" font-size="6.7" fill="#333" textLength="68.30" lengthAdjust="spacingAndGlyphs">Observed in MDS/AML</text>
<line x1="56.20" y1="364.80" x2="290.00" y2="364.80" stroke="#555" stroke-width="1.1"/>
<polygon points="293.60,364.80 289.40,362.80 289.40,366.80" fill="#111"/>
<rect x="70.30" y="359.20" width="108.90" height="11.30" fill="#e6e6e6" stroke="#3a3a3a" stroke-width="1.0"/>
<rect x="185.00" y="359.20" width="42.30" height="11.00" fill="#e6e6e6" stroke="#3a3a3a" stroke-width="1.0"/>
<rect x="246.60" y="354.60" width="39.40" height="19.90" fill="#e6e6e6" stroke="#3a3a3a" stroke-width="1.0"/>
<text x="124.70" y="368.03" font-size="8.6" fill="#222" text-anchor="middle">OB1</text>
<text x="206.20" y="368.03" font-size="8.6" fill="#222" text-anchor="middle">OB2</text>
<text x="266.40" y="362.03" font-size="8.6" fill="#222" text-anchor="middle">TPP1</text>
<text x="266.40" y="371.83" font-size="8.6" fill="#222" text-anchor="middle">binding</text>
<text x="182.10" y="385.36" font-size="8.4" fill="#333" text-anchor="middle" font-style="italic" textLength="21.20" lengthAdjust="spacingAndGlyphs">POT1</text>
<line x1="72.60" y1="344.50" x2="72.60" y2="359.20" stroke="#8a8a8a" stroke-width="0.9"/>
<circle cx="72.60" cy="344.50" r="2.55" fill="#c23b3b" stroke="#7a1c1c" stroke-width="0.6"/>
<text transform="translate(74.20,340.70) rotate(-90)" font-size="6.3" fill="#333" textLength="16.10" lengthAdjust="spacingAndGlyphs">M1fs</text>
<line x1="78.60" y1="344.50" x2="78.60" y2="359.20" stroke="#8a8a8a" stroke-width="0.9"/>
<circle cx="78.60" cy="344.50" r="2.55" fill="#c23b3b" stroke="#7a1c1c" stroke-width="0.6"/>
<text transform="translate(81.30,340.70) rotate(-90)" font-size="6.3" fill="#333" textLength="30.70" lengthAdjust="spacingAndGlyphs">C.-9+2T&gt;G</text>
<line x1="87.40" y1="344.50" x2="87.40" y2="359.20" stroke="#8a8a8a" stroke-width="0.9"/>
<circle cx="87.40" cy="344.50" r="2.55" fill="#3b76b4" stroke="#1d456e" stroke-width="0.6"/>
<text transform="translate(90.00,340.70) rotate(-90)" font-size="6.3" fill="#333" textLength="17.30" lengthAdjust="spacingAndGlyphs">G19D</text>
<line x1="93.80" y1="344.50" x2="93.80" y2="359.20" stroke="#8a8a8a" stroke-width="0.9"/>
<circle cx="93.80" cy="344.50" r="2.55" fill="#3b76b4" stroke="#1d456e" stroke-width="0.6"/>
<polyline points="93.80,342.00 93.80,308.60 89.80,304.80" fill="none" stroke="#555" stroke-width="0.75"/>
<text transform="translate(87.90,306.50) rotate(-90)" font-size="6.3" fill="#333" textLength="15.50" lengthAdjust="spacingAndGlyphs">Y26C</text>
<line x1="99.20" y1="344.50" x2="99.20" y2="359.20" stroke="#8a8a8a" stroke-width="0.9"/>
<circle cx="99.20" cy="344.50" r="2.55" fill="#3b76b4" stroke="#1d456e" stroke-width="0.6"/>
<circle cx="99.20" cy="338.80" r="2.55" fill="#3b76b4" stroke="#1d456e" stroke-width="0.6"/>
<polyline points="99.80,336.00 99.80,306.00" fill="none" stroke="#555" stroke-width="0.75"/>
<text transform="translate(99.90,304.20) rotate(-90)" font-size="6.3" fill="#333" textLength="16.50" lengthAdjust="spacingAndGlyphs">K33N</text>
<line x1="104.10" y1="344.50" x2="104.10" y2="359.20" stroke="#8a8a8a" stroke-width="0.9"/>
<circle cx="104.10" cy="344.50" r="2.55" fill="#3b76b4" stroke="#1d456e" stroke-width="0.6"/>
<polyline points="104.10,342.00 104.10,304.20 108.00,299.00" fill="none" stroke="#555" stroke-width="0.75"/>
<text transform="translate(110.80,297.20) rotate(-90)" font-size="6.3" fill="#333" textLength="15.00" lengthAdjust="spacingAndGlyphs">P34A</text>
<line x1="109.00" y1="344.50" x2="109.00" y2="359.20" stroke="#8a8a8a" stroke-width="0.9"/>
<circle cx="109.00" cy="344.50" r="2.55" fill="#3b76b4" stroke="#1d456e" stroke-width="0.6"/>
<polyline points="109.00,342.00 109.00,307.00 116.60,307.00 116.60,299.00" fill="none" stroke="#555" stroke-width="0.75"/>
<text transform="translate(119.30,297.20) rotate(-90)" font-size="6.3" fill="#333" textLength="13.80" lengthAdjust="spacingAndGlyphs">P35L</text>
<line x1="114.10" y1="344.50" x2="114.10" y2="359.20" stroke="#8a8a8a" stroke-width="0.9"/>
<circle cx="114.10" cy="344.50" r="2.55" fill="#3b76b4" stroke="#1d456e" stroke-width="0.6"/>
<polyline points="114.10,342.00 114.10,331.00" fill="none" stroke="#555" stroke-width="0.75"/>
<text transform="translate(116.70,328.80) rotate(-90)" font-size="6.3" fill="#333" textLength="13.40" lengthAdjust="spacingAndGlyphs">Y36S</text>
<line x1="119.10" y1="344.50" x2="119.10" y2="359.20" stroke="#8a8a8a" stroke-width="0.9"/>
<circle cx="119.10" cy="344.50" r="2.55" fill="#3b76b4" stroke="#1d456e" stroke-width="0.6"/>
<circle cx="119.10" cy="338.80" r="2.55" fill="#3b76b4" stroke="#1d456e" stroke-width="0.6"/>
<circle cx="119.10" cy="333.10" r="2.55" fill="#3b76b4" stroke="#1d456e" stroke-width="0.6"/>
<polyline points="119.10,331.00 119.10,322.80 126.60,308.80" fill="none" stroke="#555" stroke-width="0.75"/>
<text transform="translate(130.00,306.50) rotate(-90)" font-size="6.3" fill="#333" textLength="32.30" lengthAdjust="spacingAndGlyphs">S38R/S38N</text>
<line x1="124.10" y1="344.50" x2="124.10" y2="359.20" stroke="#8a8a8a" stroke-width="0.9"/>
<circle cx="124.10" cy="344.50" r="2.55" fill="#3b76b4" stroke="#1d456e" stroke-width="0.6"/>
<polyline points="124.10,342.00 124.10,331.20 127.40,330.20" fill="none" stroke="#555" stroke-width="0.75"/>
<text transform="translate(130.70,328.80) rotate(-90)" font-size="6.3" fill="#333" textLength="12.80" lengthAdjust="spacingAndGlyphs">K39E</text>
<line x1="129.50" y1="344.50" x2="129.50" y2="359.20" stroke="#8a8a8a" stroke-width="0.9"/>
<circle cx="129.50" cy="344.50" r="2.55" fill="#3b76b4" stroke="#1d456e" stroke-width="0.6"/>
<polyline points="129.50,342.00 129.50,334.80 133.80,325.00 133.80,306.20" fill="none" stroke="#555" stroke-width="0.75"/>
<text transform="translate(137.70,304.20) rotate(-90)" font-size="6.3" fill="#333" textLength="14.70" lengthAdjust="spacingAndGlyphs">T41A</text>
<line x1="134.70" y1="344.50" x2="134.70" y2="359.20" stroke="#8a8a8a" stroke-width="0.9"/>
<circle cx="134.70" cy="344.50" r="2.55" fill="#3b76b4" stroke="#1d456e" stroke-width="0.6"/>
<polyline points="134.70,342.00 134.70,336.50 138.00,332.00 141.80,332.00" fill="none" stroke="#555" stroke-width="0.75"/>
<text transform="translate(142.20,324.20) rotate(-90)" font-size="6.3" fill="#333" textLength="14.50" lengthAdjust="spacingAndGlyphs">D51N</text>
<line x1="146.70" y1="344.50" x2="146.70" y2="359.20" stroke="#8a8a8a" stroke-width="0.9"/>
<circle cx="146.70" cy="344.50" r="2.55" fill="#3b76b4" stroke="#1d456e" stroke-width="0.6"/>
<polyline points="146.70,342.00 146.70,331.00" fill="none" stroke="#555" stroke-width="0.75"/>
<text transform="translate(148.70,328.80) rotate(-90)" font-size="6.3" fill="#333" textLength="16.10" lengthAdjust="spacingAndGlyphs">Q87R</text>
<line x1="154.50" y1="344.50" x2="154.50" y2="359.20" stroke="#8a8a8a" stroke-width="0.9"/>
<circle cx="154.50" cy="344.50" r="2.55" fill="#3b76b4" stroke="#1d456e" stroke-width="0.6"/>
<circle cx="154.50" cy="338.80" r="2.55" fill="#3b76b4" stroke="#1d456e" stroke-width="0.6"/>
<circle cx="154.50" cy="333.10" r="2.55" fill="#3b76b4" stroke="#1d456e" stroke-width="0.6"/>
<circle cx="154.50" cy="327.40" r="2.55" fill="#3b76b4" stroke="#1d456e" stroke-width="0.6"/>
<text transform="translate(156.50,322.80) rotate(-90)" font-size="6.3" fill="#333" textLength="52.70" lengthAdjust="spacingAndGlyphs">Y89N/Y89C/Y89H</text>
<line x1="160.90" y1="344.50" x2="160.90" y2="359.20" stroke="#8a8a8a" stroke-width="0.9"/>
<circle cx="160.90" cy="344.50" r="2.55" fill="#3b76b4" stroke="#1d456e" stroke-width="0.6"/>
<text transform="translate(163.20,336.40) rotate(-90)" font-size="6.3" fill="#333" textLength="12.20" lengthAdjust="spacingAndGlyphs">K90E</text>
<line x1="165.90" y1="344.50" x2="165.90" y2="359.20" stroke="#8a8a8a" stroke-width="0.9"/>
<circle cx="165.90" cy="344.50" r="2.55" fill="#3b76b4" stroke="#1d456e" stroke-width="0.6"/>
<polyline points="165.90,342.00 165.90,308.20" fill="none" stroke="#555" stroke-width="0.75"/>
<text transform="translate(168.30,305.90) rotate(-90)" font-size="6.3" fill="#333" textLength="16.90" lengthAdjust="spacingAndGlyphs">Q94L</text>
<line x1="170.80" y1="344.50" x2="170.80" y2="359.20" stroke="#8a8a8a" stroke-width="0.9"/>
<circle cx="170.80" cy="344.50" r="2.55" fill="#3b76b4" stroke="#1d456e" stroke-width="0.6"/>
<polyline points="170.80,342.00 170.80,319.60" fill="none" stroke="#555" stroke-width="0.75"/>
<text transform="translate(173.10,317.30) rotate(-90)" font-size="6.3" fill="#333" textLength="20.60" lengthAdjust="spacingAndGlyphs">T105M</text>
<line x1="176.20" y1="344.50" x2="176.20" y2="359.20" stroke="#8a8a8a" stroke-width="0.9"/>
<circle cx="176.20" cy="344.50" r="2.55" fill="#3b76b4" stroke="#1d456e" stroke-width="0.6"/>
<polyline points="176.20,342.00 176.20,324.20 180.20,321.00" fill="none" stroke="#555" stroke-width="0.75"/>
<text transform="translate(185.10,318.90) rotate(-90)" font-size="6.3" fill="#333" textLength="16.90" lengthAdjust="spacingAndGlyphs">L136F</text>
<line x1="191.90" y1="344.50" x2="191.90" y2="359.20" stroke="#8a8a8a" stroke-width="0.9"/>
<circle cx="191.90" cy="344.50" r="2.55" fill="#3b76b4" stroke="#1d456e" stroke-width="0.6"/>
<text transform="translate(193.80,338.70) rotate(-90)" font-size="6.3" fill="#333" textLength="18.30" lengthAdjust="spacingAndGlyphs">Y242C</text>
<line x1="198.30" y1="344.50" x2="198.30" y2="359.20" stroke="#8a8a8a" stroke-width="0.9"/>
<circle cx="198.30" cy="344.50" r="2.55" fill="#3b76b4" stroke="#1d456e" stroke-width="0.6"/>
<text transform="translate(199.90,338.00) rotate(-90)" font-size="6.3" fill="#333" textLength="17.60" lengthAdjust="spacingAndGlyphs">L261S</text>
<line x1="204.10" y1="344.50" x2="204.10" y2="359.20" stroke="#8a8a8a" stroke-width="0.9"/>
<circle cx="204.10" cy="344.50" r="2.55" fill="#3b76b4" stroke="#1d456e" stroke-width="0.6"/>
<circle cx="204.10" cy="338.80" r="2.55" fill="#3b76b4" stroke="#1d456e" stroke-width="0.6"/>
<polyline points="204.10,336.00 204.10,315.80" fill="none" stroke="#555" stroke-width="0.75"/>
<text transform="translate(206.70,313.50) rotate(-90)" font-size="6.3" fill="#333" textLength="20.60" lengthAdjust="spacingAndGlyphs">H266P</text>
<line x1="210.50" y1="344.50" x2="210.50" y2="359.20" stroke="#8a8a8a" stroke-width="0.9"/>
<circle cx="210.50" cy="344.50" r="2.55" fill="#3b76b4" stroke="#1d456e" stroke-width="0.6"/>
<polyline points="210.50,342.00 210.50,335.00" fill="none" stroke="#555" stroke-width="0.75"/>
<text transform="translate(213.60,332.60) rotate(-90)" font-size="6.3" fill="#333" textLength="18.30" lengthAdjust="spacingAndGlyphs">T269I</text>
<line x1="216.60" y1="344.50" x2="216.60" y2="359.20" stroke="#8a8a8a" stroke-width="0.9"/>
<circle cx="216.60" cy="344.50" r="2.55" fill="#3b76b4" stroke="#1d456e" stroke-width="0.6"/>
<polyline points="216.60,342.00 216.60,315.80 220.40,313.40" fill="none" stroke="#555" stroke-width="0.75"/>
<text transform="translate(223.50,312.00) rotate(-90)" font-size="6.3" fill="#333" textLength="19.10" lengthAdjust="spacingAndGlyphs">S270G</text>
<line x1="221.70" y1="344.50" x2="221.70" y2="359.20" stroke="#8a8a8a" stroke-width="0.9"/>
<circle cx="221.70" cy="344.50" r="2.55" fill="#3b76b4" stroke="#1d456e" stroke-width="0.6"/>
<polyline points="221.70,342.00 221.70,325.70 226.00,323.40" fill="none" stroke="#555" stroke-width="0.75"/>
<text transform="translate(233.50,324.20) rotate(-90)" font-size="6.3" fill="#333" textLength="19.00" lengthAdjust="spacingAndGlyphs">G274R</text>
<line x1="231.70" y1="347.60" x2="231.70" y2="364.80" stroke="#8a8a8a" stroke-width="0.9"/>
<polyline points="231.70,345.00 231.70,335.60 235.20,332.20" fill="none" stroke="#555" stroke-width="0.75"/>
<circle cx="231.70" cy="347.60" r="2.55" fill="#3b76b4" stroke="#1d456e" stroke-width="0.6"/>
<text transform="translate(241.60,347.00) rotate(-90)" font-size="6.3" fill="#333" textLength="22.00" lengthAdjust="spacingAndGlyphs">V285M</text>
<line x1="259.00" y1="342.00" x2="259.00" y2="354.60" stroke="#8a8a8a" stroke-width="0.9"/>
<circle cx="259.00" cy="342.00" r="2.55" fill="#c23b3b" stroke="#7a1c1c" stroke-width="0.6"/>
<circle cx="259.00" cy="336.30" r="2.55" fill="#c23b3b" stroke="#7a1c1c" stroke-width="0.6"/>
<text transform="translate(260.90,333.20) rotate(-90)" font-size="6.3" fill="#333" textLength="41.70" lengthAdjust="spacingAndGlyphs">c.1505+3A&gt;G</text>
<line x1="267.00" y1="342.00" x2="267.00" y2="354.60" stroke="#8a8a8a" stroke-width="0.9"/>
<circle cx="267.00" cy="342.00" r="2.55" fill="#3b76b4" stroke="#1d456e" stroke-width="0.6"/>
<text transform="translate(270.30,336.70) rotate(-90)" font-size="6.3" fill="#333" textLength="17.80" lengthAdjust="spacingAndGlyphs">A532T</text>
<line x1="55.80" y1="498.80" x2="281.00" y2="498.80" stroke="#555" stroke-width="1.1"/>
<polygon points="284.60,498.80 280.40,496.80 280.40,500.80" fill="#111"/>
<rect x="81.20" y="493.30" width="192.80" height="10.90" fill="#e6e6e6" stroke="#3a3a3a" stroke-width="1.0"/>
<text x="178.30" y="501.93" font-size="8.6" fill="#222" text-anchor="middle" textLength="27.00" lengthAdjust="spacingAndGlyphs">Exon 6</text>
<text x="172.90" y="515.43" font-size="8.6" fill="#333" text-anchor="middle" font-style="italic" textLength="29.70" lengthAdjust="spacingAndGlyphs">PPM1D</text>
<line x1="90.00" y1="479.00" x2="90.00" y2="493.30" stroke="#8a8a8a" stroke-width="0.9"/>
<circle cx="90.00" cy="479.00" r="2.60" fill="#c23b3b" stroke="#7a1c1c" stroke-width="0.6"/>
<text transform="translate(91.20,473.80) rotate(-90)" font-size="6.3" fill="#333" textLength="18.90" lengthAdjust="spacingAndGlyphs">S421X</text>
<line x1="98.00" y1="479.00" x2="98.00" y2="493.30" stroke="#8a8a8a" stroke-width="0.9"/>
<circle cx="98.00" cy="479.00" r="2.60" fill="#c23b3b" stroke="#7a1c1c" stroke-width="0.6"/>
<circle cx="98.00" cy="473.20" r="2.60" fill="#c23b3b" stroke="#7a1c1c" stroke-width="0.6"/>
<circle cx="98.00" cy="467.40" r="2.60" fill="#c23b3b" stroke="#7a1c1c" stroke-width="0.6"/>
<text transform="translate(100.30,464.30) rotate(-90)" font-size="6.3" fill="#333" textLength="49.70" lengthAdjust="spacingAndGlyphs">W427X/W427Gfs</text>
<line x1="106.20" y1="479.00" x2="106.20" y2="493.30" stroke="#8a8a8a" stroke-width="0.9"/>
<circle cx="106.20" cy="479.00" r="2.60" fill="#c23b3b" stroke="#7a1c1c" stroke-width="0.6"/>
<text transform="translate(108.90,473.80) rotate(-90)" font-size="6.3" fill="#333" textLength="19.30" lengthAdjust="spacingAndGlyphs">R429X</text>
<line x1="114.00" y1="479.00" x2="114.00" y2="493.30" stroke="#8a8a8a" stroke-width="0.9"/>
<circle cx="114.00" cy="479.00" r="2.60" fill="#c23b3b" stroke="#7a1c1c" stroke-width="0.6"/>
<polyline points="114.00,476.00 114.00,441.00 110.00,436.60" fill="none" stroke="#555" stroke-width="0.75"/>
<text transform="translate(109.90,434.30) rotate(-90)" font-size="6.3" fill="#333" textLength="18.00" lengthAdjust="spacingAndGlyphs">S446X</text>
<line x1="120.70" y1="479.00" x2="120.70" y2="493.30" stroke="#8a8a8a" stroke-width="0.9"/>
<circle cx="120.70" cy="479.00" r="2.60" fill="#c23b3b" stroke="#7a1c1c" stroke-width="0.6"/>
<polyline points="120.70,476.00 120.70,427.40 124.40,427.40 124.40,425.60" fill="none" stroke="#555" stroke-width="0.75"/>
<text transform="translate(126.00,424.90) rotate(-90)" font-size="6.3" fill="#333" textLength="21.50" lengthAdjust="spacingAndGlyphs">L450X</text>
<line x1="127.20" y1="479.00" x2="127.20" y2="493.30" stroke="#8a8a8a" stroke-width="0.9"/>
<circle cx="127.20" cy="479.00" r="2.60" fill="#c23b3b" stroke="#7a1c1c" stroke-width="0.6"/>
<text transform="translate(128.10,474.60) rotate(-90)" font-size="6.3" fill="#333" textLength="30.00" lengthAdjust="spacingAndGlyphs">N460MfsX5</text>
<line x1="134.00" y1="479.00" x2="134.00" y2="493.30" stroke="#8a8a8a" stroke-width="0.9"/>
<circle cx="134.00" cy="479.00" r="2.60" fill="#c23b3b" stroke="#7a1c1c" stroke-width="0.6"/>
<text transform="translate(135.50,474.60) rotate(-90)" font-size="6.3" fill="#333" textLength="38.60" lengthAdjust="spacingAndGlyphs">S468QfsX15</text>
<line x1="141.70" y1="479.00" x2="141.70" y2="493.30" stroke="#8a8a8a" stroke-width="0.9"/>
<circle cx="141.70" cy="479.00" r="2.60" fill="#c23b3b" stroke="#7a1c1c" stroke-width="0.6"/>
<circle cx="141.70" cy="473.20" r="2.60" fill="#c23b3b" stroke="#7a1c1c" stroke-width="0.6"/>
<circle cx="141.70" cy="467.40" r="2.60" fill="#c23b3b" stroke="#7a1c1c" stroke-width="0.6"/>
<circle cx="141.70" cy="461.60" r="2.60" fill="#c23b3b" stroke="#7a1c1c" stroke-width="0.6"/>
<circle cx="141.70" cy="455.80" r="2.60" fill="#c23b3b" stroke="#7a1c1c" stroke-width="0.6"/>
<text transform="translate(144.90,451.50) rotate(-90)" font-size="6.3" fill="#333" textLength="18.90" lengthAdjust="spacingAndGlyphs">E475fs</text>
<line x1="150.80" y1="479.00" x2="150.80" y2="493.30" stroke="#8a8a8a" stroke-width="0.9"/>
<circle cx="150.80" cy="479.00" r="2.60" fill="#c23b3b" stroke="#7a1c1c" stroke-width="0.6"/>
<text transform="translate(153.10,472.50) rotate(-90)" font-size="6.3" fill="#333" textLength="31.60" lengthAdjust="spacingAndGlyphs">N477PfsX2</text>
<line x1="159.10" y1="479.00" x2="159.10" y2="493.30" stroke="#8a8a8a" stroke-width="0.9"/>
<circle cx="159.10" cy="479.00" r="2.60" fill="#c23b3b" stroke="#7a1c1c" stroke-width="0.6"/>
<circle cx="159.10" cy="473.20" r="2.60" fill="#c23b3b" stroke="#7a1c1c" stroke-width="0.6"/>
<text transform="translate(161.50,469.10) rotate(-90)" font-size="6.3" fill="#333" textLength="18.10" lengthAdjust="spacingAndGlyphs">C478X</text>
<line x1="168.30" y1="479.00" x2="168.30" y2="493.30" stroke="#8a8a8a" stroke-width="0.9"/>
<circle cx="168.30" cy="479.00" r="2.60" fill="#c23b3b" stroke="#7a1c1c" stroke-width="0.6"/>
<text transform="translate(170.30,471.80) rotate(-90)" font-size="6.3" fill="#333" textLength="31.60" lengthAdjust="spacingAndGlyphs">K480NfsX2</text>
<line x1="177.00" y1="479.00" x2="177.00" y2="493.30" stroke="#8a8a8a" stroke-width="0.9"/>
<circle cx="177.00" cy="479.00" r="2.60" fill="#c23b3b" stroke="#7a1c1c" stroke-width="0.6"/>
<circle cx="177.00" cy="473.20" r="2.60" fill="#c23b3b" stroke="#7a1c1c" stroke-width="0.6"/>
<circle cx="177.00" cy="467.40" r="2.60" fill="#c23b3b" stroke="#7a1c1c" stroke-width="0.6"/>
<text transform="translate(179.70,460.40) rotate(-90)" font-size="6.3" fill="#333" textLength="30.30" lengthAdjust="spacingAndGlyphs">A481PfsX2</text>
<line x1="185.80" y1="479.00" x2="185.80" y2="493.30" stroke="#8a8a8a" stroke-width="0.9"/>
<circle cx="185.80" cy="479.00" r="2.60" fill="#c23b3b" stroke="#7a1c1c" stroke-width="0.6"/>
<circle cx="185.80" cy="473.20" r="2.60" fill="#c23b3b" stroke="#7a1c1c" stroke-width="0.6"/>
<circle cx="185.80" cy="467.40" r="2.60" fill="#c23b3b" stroke="#7a1c1c" stroke-width="0.6"/>
<text transform="translate(188.10,460.40) rotate(-90)" font-size="6.3" fill="#333" textLength="18.20" lengthAdjust="spacingAndGlyphs">L484X</text>
<line x1="194.50" y1="479.00" x2="194.50" y2="493.30" stroke="#8a8a8a" stroke-width="0.9"/>
<circle cx="194.50" cy="479.00" r="2.60" fill="#c23b3b" stroke="#7a1c1c" stroke-width="0.6"/>
<text transform="translate(196.80,471.80) rotate(-90)" font-size="6.3" fill="#333" textLength="17.50" lengthAdjust="spacingAndGlyphs">S503X</text>
<line x1="202.60" y1="479.00" x2="202.60" y2="493.30" stroke="#8a8a8a" stroke-width="0.9"/>
<circle cx="202.60" cy="479.00" r="2.60" fill="#c23b3b" stroke="#7a1c1c" stroke-width="0.6"/>
<text transform="translate(204.90,471.80) rotate(-90)" font-size="6.3" fill="#333" textLength="32.30" lengthAdjust="spacingAndGlyphs">M508RfsX9</text>
<line x1="211.00" y1="479.00" x2="211.00" y2="493.30" stroke="#8a8a8a" stroke-width="0.9"/>
<circle cx="211.00" cy="479.00" r="2.60" fill="#c23b3b" stroke="#7a1c1c" stroke-width="0.6"/>
<text transform="translate(213.30,471.10) rotate(-90)" font-size="6.3" fill="#333" textLength="33.60" lengthAdjust="spacingAndGlyphs">E525KfsX14</text>
<line x1="219.10" y1="479.00" x2="219.10" y2="493.30" stroke="#8a8a8a" stroke-width="0.9"/>
<circle cx="219.10" cy="479.00" r="2.60" fill="#c23b3b" stroke="#7a1c1c" stroke-width="0.6"/>
<text transform="translate(221.10,471.10) rotate(-90)" font-size="6.3" fill="#333" textLength="29.60" lengthAdjust="spacingAndGlyphs">P530LfsX9</text>
<line x1="226.20" y1="479.00" x2="226.20" y2="493.30" stroke="#8a8a8a" stroke-width="0.9"/>
<circle cx="226.20" cy="479.00" r="2.60" fill="#c23b3b" stroke="#7a1c1c" stroke-width="0.6"/>
<text transform="translate(228.50,471.10) rotate(-90)" font-size="6.3" fill="#333" textLength="31.60" lengthAdjust="spacingAndGlyphs">R536GfsX3</text>
<line x1="234.70" y1="479.00" x2="234.70" y2="493.30" stroke="#8a8a8a" stroke-width="0.9"/>
<circle cx="234.70" cy="479.00" r="2.60" fill="#c23b3b" stroke="#7a1c1c" stroke-width="0.6"/>
<text transform="translate(236.60,471.10) rotate(-90)" font-size="6.3" fill="#333" textLength="17.50" lengthAdjust="spacingAndGlyphs">L538X</text>
<line x1="242.00" y1="479.00" x2="242.00" y2="493.30" stroke="#8a8a8a" stroke-width="0.9"/>
<circle cx="242.00" cy="479.00" r="2.60" fill="#c23b3b" stroke="#7a1c1c" stroke-width="0.6"/>
<circle cx="242.00" cy="473.20" r="2.60" fill="#c23b3b" stroke="#7a1c1c" stroke-width="0.6"/>
<text transform="translate(243.30,464.40) rotate(-90)" font-size="6.3" fill="#333" textLength="18.80" lengthAdjust="spacingAndGlyphs">E540fs</text>
<line x1="249.80" y1="479.00" x2="249.80" y2="493.30" stroke="#8a8a8a" stroke-width="0.9"/>
<circle cx="249.80" cy="479.00" r="2.60" fill="#c23b3b" stroke="#7a1c1c" stroke-width="0.6"/>
<text transform="translate(252.10,471.10) rotate(-90)" font-size="6.3" fill="#333" textLength="30.90" lengthAdjust="spacingAndGlyphs">H550LfsX6</text>
<line x1="257.90" y1="479.00" x2="257.90" y2="493.30" stroke="#8a8a8a" stroke-width="0.9"/>
<circle cx="257.90" cy="479.00" r="2.60" fill="#c23b3b" stroke="#7a1c1c" stroke-width="0.6"/>
<circle cx="257.90" cy="473.20" r="2.60" fill="#c23b3b" stroke="#7a1c1c" stroke-width="0.6"/>
<circle cx="257.90" cy="467.40" r="2.60" fill="#c23b3b" stroke="#7a1c1c" stroke-width="0.6"/>
<text transform="translate(260.20,460.40) rotate(-90)" font-size="6.3" fill="#333" textLength="18.20" lengthAdjust="spacingAndGlyphs">R552X</text>
<line x1="266.00" y1="479.00" x2="266.00" y2="493.30" stroke="#8a8a8a" stroke-width="0.9"/>
<circle cx="266.00" cy="479.00" r="2.60" fill="#c23b3b" stroke="#7a1c1c" stroke-width="0.6"/>
<text transform="translate(268.30,471.80) rotate(-90)" font-size="6.3" fill="#333" textLength="18.20" lengthAdjust="spacingAndGlyphs">R581X</text>
<line x1="330.40" y1="363.30" x2="459.00" y2="363.30" stroke="#333" stroke-width="1.1"/>
<polygon points="462.40,363.30 458.20,361.30 458.20,365.30" fill="#111"/>
<rect x="339.40" y="351.40" width="49.50" height="23.80" fill="#e6e6e6" stroke="#3a3a3a" stroke-width="1.0"/>
<rect x="398.20" y="351.40" width="38.40" height="23.80" fill="#e6e6e6" stroke="#3a3a3a" stroke-width="1.0"/>
<text x="364.20" y="361.41" font-size="8.8" fill="#222" text-anchor="middle">Zinc</text>
<text x="364.20" y="371.21" font-size="8.8" fill="#222" text-anchor="middle">Finger 1</text>
<text x="417.40" y="361.41" font-size="8.8" fill="#222" text-anchor="middle">Zinc</text>
<text x="417.40" y="371.21" font-size="8.8" fill="#222" text-anchor="middle">Finger 2</text>
<text x="396.20" y="385.23" font-size="8.6" fill="#333" text-anchor="middle" font-style="italic" textLength="24.70" lengthAdjust="spacingAndGlyphs">U2AF1</text>
<line x1="368.70" y1="346.00" x2="368.70" y2="351.40" stroke="#8a8a8a" stroke-width="1.0"/>
<circle cx="366.00" cy="342.90" r="2.85" fill="#3b76b4" stroke="#1d456e" stroke-width="0.7"/>
<circle cx="371.60" cy="342.90" r="2.85" fill="#3b76b4" stroke="#1d456e" stroke-width="0.7"/>
<circle cx="366.00" cy="336.60" r="2.85" fill="#3b76b4" stroke="#1d456e" stroke-width="0.7"/>
<circle cx="371.60" cy="336.60" r="2.85" fill="#3b76b4" stroke="#1d456e" stroke-width="0.7"/>
<circle cx="366.00" cy="330.30" r="2.85" fill="#3b76b4" stroke="#1d456e" stroke-width="0.7"/>
<circle cx="371.60" cy="330.30" r="2.85" fill="#3b76b4" stroke="#1d456e" stroke-width="0.7"/>
<line x1="380.50" y1="346.00" x2="380.50" y2="351.40" stroke="#8a8a8a" stroke-width="1.0"/>
<circle cx="378.00" cy="342.90" r="2.85" fill="#3b76b4" stroke="#1d456e" stroke-width="0.7"/>
<circle cx="383.00" cy="342.90" r="2.85" fill="#3b76b4" stroke="#1d456e" stroke-width="0.7"/>
<circle cx="378.00" cy="336.60" r="2.85" fill="#3b76b4" stroke="#1d456e" stroke-width="0.7"/>
<circle cx="383.00" cy="336.60" r="2.85" fill="#3b76b4" stroke="#1d456e" stroke-width="0.7"/>
<circle cx="378.00" cy="330.30" r="2.85" fill="#3b76b4" stroke="#1d456e" stroke-width="0.7"/>
<circle cx="383.00" cy="330.30" r="2.85" fill="#3b76b4" stroke="#1d456e" stroke-width="0.7"/>
<circle cx="378.00" cy="324.00" r="2.85" fill="#3b76b4" stroke="#1d456e" stroke-width="0.7"/>
<circle cx="383.00" cy="324.00" r="2.85" fill="#3b76b4" stroke="#1d456e" stroke-width="0.7"/>
<circle cx="380.50" cy="318.40" r="2.85" fill="#3b76b4" stroke="#1d456e" stroke-width="0.7"/>
<text transform="translate(370.57,323.70) rotate(-90)" font-size="7.6" fill="#333" textLength="18.10" lengthAdjust="spacingAndGlyphs">S34Y</text>
<text transform="translate(383.77,314.20) rotate(-90)" font-size="7.6" fill="#333" textLength="17.60" lengthAdjust="spacingAndGlyphs">S34F</text>
<line x1="425.80" y1="346.00" x2="425.80" y2="351.40" stroke="#8a8a8a" stroke-width="1.0"/>
<circle cx="425.80" cy="343.70" r="2.85" fill="#3b76b4" stroke="#1d456e" stroke-width="0.7"/>
<circle cx="425.80" cy="338.00" r="2.85" fill="#3b76b4" stroke="#1d456e" stroke-width="0.7"/>
<text transform="translate(428.92,330.70) rotate(-90)" font-size="8.0" fill="#333" textLength="26.00" lengthAdjust="spacingAndGlyphs">Q157R</text>
<line x1="329.70" y1="498.70" x2="471.00" y2="498.70" stroke="#333" stroke-width="1.1"/>
<polygon points="474.20,499.00 470.00,497.00 470.00,501.00" fill="#111"/>
<rect x="395.80" y="493.10" width="68.80" height="11.10" fill="#e6e6e6" stroke="#3a3a3a" stroke-width="1.0"/>
<text x="430.2" y="502.2" font-size="8.8" fill="#222" text-anchor="middle"><tspan font-style="italic">TERT</tspan> gene</text>
<text x="372.7" y="515.0" font-size="8.6" fill="#333" font-style="italic" textLength="58.6" lengthAdjust="spacingAndGlyphs">TERT promoter</text>
<polyline points="395.80,493.10 395.80,483.00 407.00,483.00" fill="none" stroke="#222" stroke-width="1.0"/>
<polygon points="411.00,483.00 406.80,481.00 406.80,485.00" fill="#111"/>
<text x="398.30" y="477.81" font-size="6.6" fill="#333" textLength="64.70" lengthAdjust="spacingAndGlyphs">Transcription start site</text>
<line x1="344.70" y1="479.80" x2="344.70" y2="498.70" stroke="#8a8a8a" stroke-width="1.0"/>
<circle cx="344.70" cy="479.80" r="2.75" fill="#3b76b4" stroke="#1d456e" stroke-width="0.7"/>
<text transform="translate(347.41,468.70) rotate(-90)" font-size="6.6" fill="#333" textLength="31.50" lengthAdjust="spacingAndGlyphs">c.–146C&gt;T</text>
<line x1="361.80" y1="482.00" x2="361.80" y2="498.70" stroke="#8a8a8a" stroke-width="1.0"/>
<circle cx="359.00" cy="479.20" r="2.75" fill="#3b76b4" stroke="#1d456e" stroke-width="0.7"/>
<circle cx="364.70" cy="479.20" r="2.75" fill="#3b76b4" stroke="#1d456e" stroke-width="0.7"/>
<circle cx="359.00" cy="472.72" r="2.75" fill="#3b76b4" stroke="#1d456e" stroke-width="0.7"/>
<circle cx="364.70" cy="472.72" r="2.75" fill="#3b76b4" stroke="#1d456e" stroke-width="0.7"/>
<circle cx="359.00" cy="466.24" r="2.75" fill="#3b76b4" stroke="#1d456e" stroke-width="0.7"/>
<circle cx="364.70" cy="466.24" r="2.75" fill="#3b76b4" stroke="#1d456e" stroke-width="0.7"/>
<circle cx="359.00" cy="459.76" r="2.75" fill="#3b76b4" stroke="#1d456e" stroke-width="0.7"/>
<circle cx="364.70" cy="459.76" r="2.75" fill="#3b76b4" stroke="#1d456e" stroke-width="0.7"/>
<circle cx="359.00" cy="453.28" r="2.75" fill="#3b76b4" stroke="#1d456e" stroke-width="0.7"/>
<circle cx="364.70" cy="453.28" r="2.75" fill="#3b76b4" stroke="#1d456e" stroke-width="0.7"/>
<circle cx="359.00" cy="446.80" r="2.75" fill="#3b76b4" stroke="#1d456e" stroke-width="0.7"/>
<circle cx="364.70" cy="446.80" r="2.75" fill="#3b76b4" stroke="#1d456e" stroke-width="0.7"/>
<text transform="translate(364.21,440.00) rotate(-90)" font-size="6.6" fill="#333" textLength="29.50" lengthAdjust="spacingAndGlyphs">c.–124C&gt;T</text>
<line x1="381.70" y1="482.00" x2="381.70" y2="498.70" stroke="#8a8a8a" stroke-width="1.0"/>
<circle cx="381.70" cy="479.80" r="2.75" fill="#3b76b4" stroke="#1d456e" stroke-width="0.7"/>
<circle cx="381.70" cy="474.10" r="2.75" fill="#3b76b4" stroke="#1d456e" stroke-width="0.7"/>
<circle cx="381.70" cy="468.40" r="2.75" fill="#3b76b4" stroke="#1d456e" stroke-width="0.7"/>
<circle cx="381.70" cy="462.70" r="2.75" fill="#3b76b4" stroke="#1d456e" stroke-width="0.7"/>
<circle cx="381.70" cy="457.00" r="2.75" fill="#3b76b4" stroke="#1d456e" stroke-width="0.7"/>
<circle cx="381.70" cy="451.30" r="2.75" fill="#3b76b4" stroke="#1d456e" stroke-width="0.7"/>
<circle cx="381.70" cy="445.60" r="2.75" fill="#3b76b4" stroke="#1d456e" stroke-width="0.7"/>
<circle cx="381.70" cy="439.90" r="2.75" fill="#3b76b4" stroke="#1d456e" stroke-width="0.7"/>
<text transform="translate(384.11,435.30) rotate(-90)" font-size="6.6" fill="#333" textLength="27.70" lengthAdjust="spacingAndGlyphs">c.–57A&gt;C</text>
</svg>
</body></html>
